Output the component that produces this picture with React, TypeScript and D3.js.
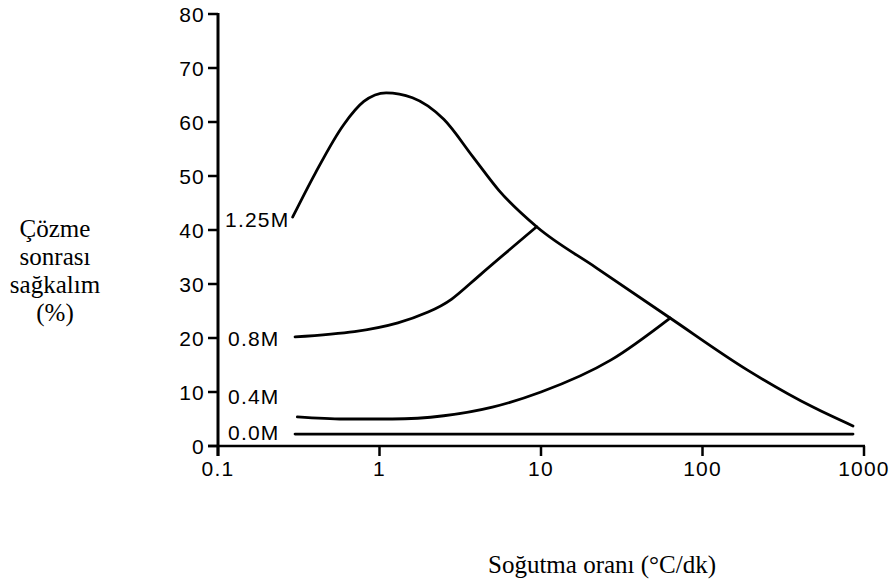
import React from "react";
import * as d3 from "d3";

// Cooling rate (°C/min) and post-thaw survival (%) per concentration
const rate125 = [0.29, 0.4, 0.6, 0.8, 1.1, 1.6, 2.5, 3.8, 5.5, 9.4, 22, 63, 189, 483, 855];
const surv125 = [42.4, 50.5, 59.5, 63.8, 65.4, 64.5, 60.5, 53.5, 47.3, 40.6, 33.0, 23.7, 14.1, 7.2, 3.7];

const rate08 = [0.3, 0.7, 1.3, 2.0, 2.8, 4.2, 9.4];
const surv08 = [20.2, 21.2, 22.8, 24.8, 27.2, 31.7, 40.6];

const rate04 = [0.31, 0.6, 1.2, 2.5, 5.0, 10, 27, 63];
const surv04 = [5.4, 5.0, 5.0, 5.6, 7.2, 10.0, 15.9, 23.7];

const rate00 = [0.3, 855];
const surv00 = [2.2, 2.2];

const seriesLabels = ["1.25M", "0.8M", "0.4M", "0.0M"];
const labelValues = [42.0, 20.0, 9.2, 2.5];

const xTicks = [0.1, 1, 10, 100, 1000];
const xTickLabels = ["0.1", "1", "10", "100", "1000"];
const yTicks = [0, 10, 20, 30, 40, 50, 60, 70, 80];

const yTitle = ["Çözme", "sonrası", "sağkalım", "(%)"];
const xTitle = "Soğutma oranı (°C/dk)";

export default function App() {
  const W = 891, H = 588;
  const x = d3.scaleLog().domain([0.1, 1000]).range([218, 864]);
  const y = d3.scaleLinear().domain([0, 80]).range([446, 14]);

  const makeLine = (curve: d3.CurveFactory) =>
    d3
      .line<[number, number]>()
      .x((d) => x(d[0]))
      .y((d) => y(d[1]))
      .curve(curve);

  const series: { pts: [number, number][]; curve: d3.CurveFactory }[] = [
    { pts: d3.zip(rate125, surv125) as [number, number][], curve: d3.curveMonotoneX },
    { pts: d3.zip(rate08, surv08) as [number, number][], curve: d3.curveNatural },
    { pts: d3.zip(rate04, surv04) as [number, number][], curve: d3.curveMonotoneX },
    { pts: d3.zip(rate00, surv00) as [number, number][], curve: d3.curveLinear },
  ];

  const sans = "'Liberation Sans', Arial, Helvetica, sans-serif";
  const serif = "'Liberation Serif', 'Times New Roman', serif";
  const axisX = x(0.1);
  const axisY = y(0);

  return (
    <svg
      width={W}
      height={H}
      style={{ position: "absolute", left: 0, top: 0, background: "#fff" }}
    >
      <rect width={W} height={H} fill="#fff" />
      {/* Y axis */}
      <line x1={axisX} x2={axisX} y1={y(80) - 1} y2={axisY + 10} stroke="#000" strokeWidth={3} />
      {yTicks.map((t) => (
        <g key={t}>
          <line x1={axisX - 10} x2={axisX} y1={y(t)} y2={y(t)} stroke="#000" strokeWidth={2.5} />
          <text
            x={axisX - 13}
            y={y(t)}
            dy="0.36em"
            textAnchor="end"
            fontFamily={sans}
            fontSize={21}
            letterSpacing={1.2}
          >
            {t}
          </text>
        </g>
      ))}
      {/* X axis */}
      <line x1={axisX - 10} x2={x(1000) + 1} y1={axisY} y2={axisY} stroke="#000" strokeWidth={2.5} />
      {xTicks.map((t, i) => (
        <g key={t}>
          <line x1={x(t)} x2={x(t)} y1={axisY} y2={axisY + 10} stroke="#000" strokeWidth={2.5} />
          <text
            x={x(t)}
            y={axisY + 30}
            textAnchor="middle"
            fontFamily={sans}
            fontSize={21}
            letterSpacing={1.2}
          >
            {xTickLabels[i]}
          </text>
        </g>
      ))}
      {/* Curves */}
      {series.map((s, i) => (
        <path
          key={i}
          d={makeLine(s.curve)(s.pts) || ""}
          fill="none"
          stroke="#000"
          strokeWidth={2.8}
          strokeLinecap="round"
        />
      ))}
      {/* Series labels */}
      {seriesLabels.map((lab, i) => (
        <text
          key={lab}
          x={i === 0 ? axisX + 7 : axisX + 10}
          y={y(labelValues[i])}
          dy="0.36em"
          fontFamily={sans}
          fontSize={21}
          letterSpacing={1.2}
        >
          {lab}
        </text>
      ))}
      {/* Y title */}
      {yTitle.map((t, i) => (
        <text key={t} x={55} y={237 + i * 28} textAnchor="middle" fontFamily={serif} fontSize={25}>
          {t}
        </text>
      ))}
      {/* X title */}
      <text x={602} y={573} textAnchor="middle" fontFamily={serif} fontSize={25}>
        {xTitle}
      </text>
    </svg>
  );
}
